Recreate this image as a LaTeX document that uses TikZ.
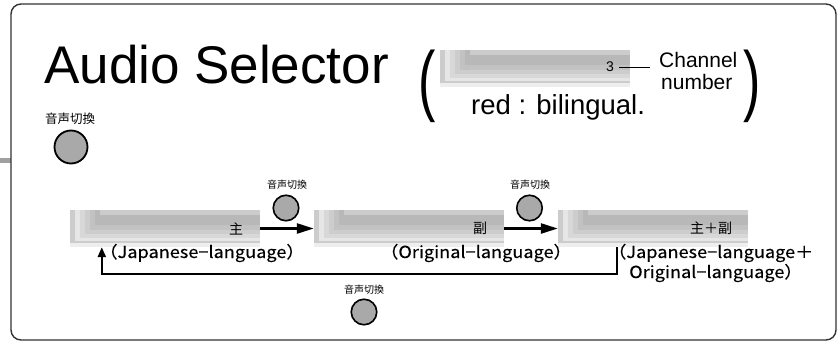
\documentclass[tikz,border=0pt]{standalone}
\usepackage{fontspec}
\usepackage{graphicx}
\setmainfont{Liberation Sans}
\newfontfamily\jp{Noto Sans CJK JP}
\newfontfamily\jpw[FakeStretch=1.1,FakeBold=0.35]{Noto Sans CJK JP}
\usetikzlibrary{arrows.meta,calc}
\definecolor{lcdA}{HTML}{EEEEEE}
\definecolor{lcdB}{HTML}{CCCCCC}
\definecolor{lcdC}{HTML}{E6E6E6}
\definecolor{lcdD}{HTML}{D8D8D8}
\definecolor{lcdE}{HTML}{CDCDCD}
\definecolor{lcdF}{HTML}{C2C2C2}
\definecolor{lcdG}{HTML}{B8B8B8}
\definecolor{btn}{HTML}{A9A9A9}
\definecolor{frame}{HTML}{333333}
\definecolor{stub}{HTML}{A0A0A0}
\tikzset{
  lcd/.style={minimum width=190pt, minimum height=37pt, inner sep=0pt,
    path picture={
      \path (path picture bounding box.north west) coordinate (pnw);
      \fill[lcdA] (pnw) rectangle ++(190,37);
      \fill[lcdB] (pnw) rectangle ++(190,33);
      \fill[lcdC] ($(pnw)+(5,0)$) rectangle ++(185,31);
      \fill[lcdD] ($(pnw)+(10,0)$) rectangle ++(180,28);
      \fill[lcdE] ($(pnw)+(15,0)$) rectangle ++(175,24);
      \fill[lcdF] ($(pnw)+(20,0)$) rectangle ++(170,20);
      \fill[lcdG] ($(pnw)+(25,0)$) rectangle ++(165,15);
      \fill[lcdB] ($(pnw)+(30,0)$) rectangle ++(160,5);
    }},
  bartext/.style={font=\jp\fontsize{14}{16}\selectfont, inner sep=0pt, anchor=east},
  btnbig/.style={circle, draw=black, fill=btn, line width=1.8pt, minimum size=33pt, inner sep=0pt},
  btnsmall/.style={circle, draw=black, fill=btn, line width=1.6pt, minimum size=25.5pt, inner sep=0pt},
  swlbl/.style={font=\jp\fontsize{10}{12}\selectfont, inner sep=0pt},
  langlbl/.style={font=\jpw\fontsize{16.5}{19}\selectfont, inner sep=0pt},
  fwd/.style={line width=2.5pt, -{Triangle[length=17pt,width=10pt]}},
  ret/.style={line width=2.3pt, -{Triangle[length=10pt,width=8pt]}},
}
\begin{document}
\begin{tikzpicture}[x=1pt,y=-1pt]
\useasboundingbox (0,0) rectangle (838,343);
% frame and stub
\fill[stub] (0,158) rectangle (11,163);
\draw[frame, line width=1.4pt, rounded corners=10pt] (11,4) rectangle (836,340);

% title
\node[anchor=base west, inner sep=0pt, font=\fontsize{53}{60}\selectfont] (title) at (44,83) {Audio Selector};

% legend
\node[inner sep=0pt, font=\fontsize{52}{60}\selectfont] (lpar) at (427,86.5) {\scalebox{1}[1.5]{(}};
\node[inner sep=0pt, font=\fontsize{52}{60}\selectfont] (rpar) at (752,86.5) {\scalebox{1}[1.5]{)}};
\node[lcd] (legbar) at (535,68.5) {};
\node[inner sep=0pt, anchor=east, font=\fontsize{14}{16}\selectfont] (ch3) at ([xshift=-16pt]legbar.east |- 0,67) {3};
\node[anchor=base west, inner sep=0pt, align=left, font=\fontsize{21}{23}\selectfont] (chan) at (659,67) {Channel};
\node[anchor=base west, inner sep=0pt, font=\fontsize{21}{23}\selectfont] (num) at (661,89) {number};
\draw[line width=0.9pt] ([xshift=5pt]ch3.east) -- ([xshift=-9pt]ch3.east -| chan.west);
\node[anchor=base west, inner sep=0pt, font=\fontsize{27.5}{30}\selectfont] (red) at (471,114) {red : bilingual.};

% big button
\node[font=\jp\fontsize{12.5}{14}\selectfont, inner sep=0pt] (sw0lbl) at (70,119) {音声切換};
\node[btnbig] (sw0) at (71,147) {};

% bars
\node[lcd] (bar1) at (165,228.5) {};
\node[lcd] (bar2) at (409,228.5) {};
\node[lcd] (bar3) at (653,228.5) {};
\node[bartext] (t1) at ([xshift=-17pt]bar1.east) {主};
\node[bartext] (t2) at ([xshift=-17pt]bar2.east) {副};
\node[bartext] (t3) at ([xshift=-16pt]bar3.east) {主＋副};

% switches
\node[swlbl] (sw1lbl) at (287,185) {音声切換};
\node[btnsmall] (sw1) at (286,208) {};
\node[swlbl] (sw2lbl) at (530,185) {音声切換};
\node[btnsmall] (sw2) at (529.5,208) {};
\node[swlbl] (sw3lbl) at (364,290) {音声切換};
\node[btnsmall] (sw3) at (364,312) {};

% arrows
\draw[fwd] (bar1.east) -- (bar2.west);
\draw[fwd] (bar2.east) -- (bar3.west);
\coordinate (retA) at ([xshift=59pt]bar3.south west);
\coordinate (retB) at ([xshift=32pt]bar1.south west);
\draw[ret] (retA) -- ++(0,27) -| (retB);

% language labels
\node[langlbl] (l1) at (202,253) {（Japanese−language）};
\node[langlbl] (l2) at (476,253) {（Original−language）};
\node[langlbl, anchor=west] (l3a) at (608,253) {（Japanese−language＋};
\node[langlbl, anchor=west] (l3b) at (629,273) {Original−language）};
\end{tikzpicture}
\end{document}
